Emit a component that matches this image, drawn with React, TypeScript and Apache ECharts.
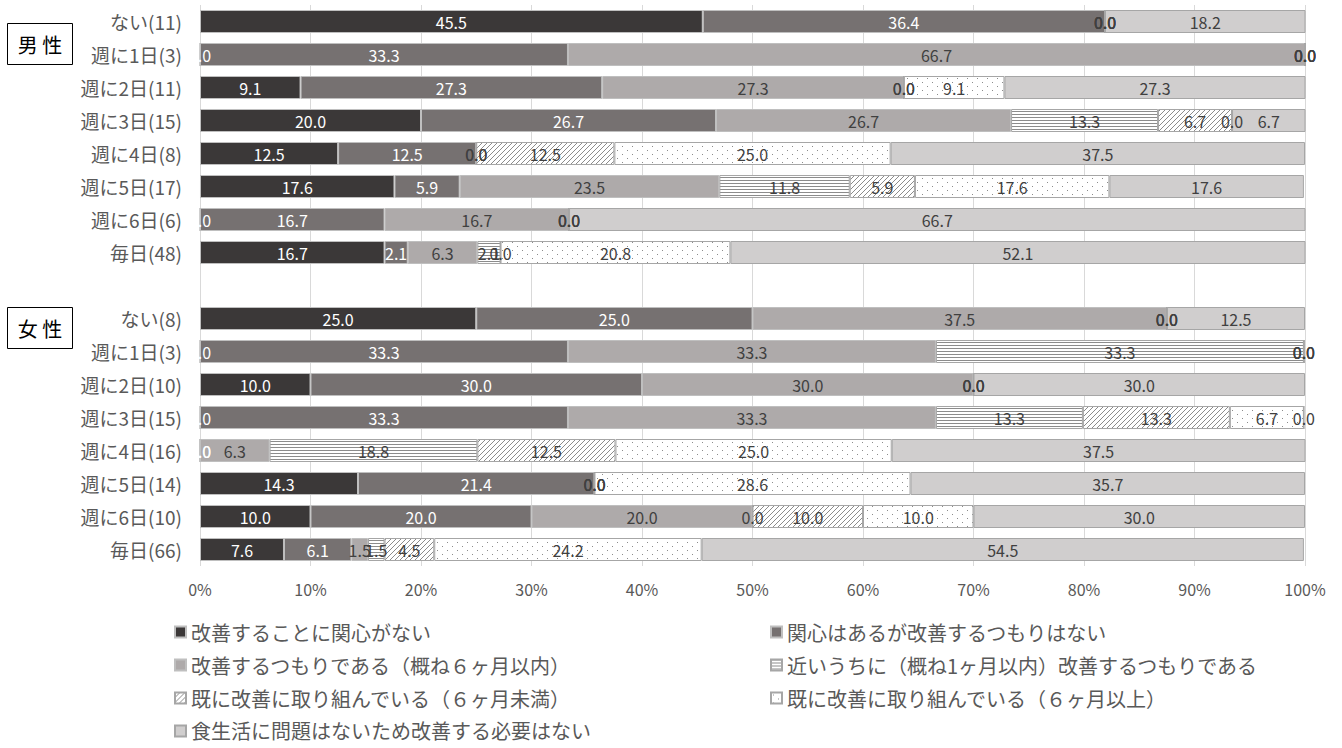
import React, { useEffect, useRef } from "react";
import * as echarts from "echarts";

// ---- Data ----
const seriesNames = [
  "改善することに関心がない",
  "関心はあるが改善するつもりはない",
  "改善するつもりである（概ね６ヶ月以内）",
  "近いうちに（概ね1ヶ月以内）改善するつもりである",
  "既に改善に取り組んでいる（６ヶ月未満）",
  "既に改善に取り組んでいる（６ヶ月以上）",
  "食生活に問題はないため改善する必要はない",
];

const maleLabels = ["ない(11)", "週に1日(3)", "週に2日(11)", "週に3日(15)", "週に4日(8)", "週に5日(17)", "週に6日(6)", "毎日(48)"];
const femaleLabels = ["ない(8)", "週に1日(3)", "週に2日(10)", "週に3日(15)", "週に4日(16)", "週に5日(14)", "週に6日(10)", "毎日(66)"];

const maleNoInterest = [45.5, 0, 9.1, 20.0, 12.5, 17.6, 0, 16.7];
const maleNoPlan = [36.4, 33.3, 27.3, 26.7, 12.5, 5.9, 16.7, 2.1];
const maleWithin6Months = [0, 66.7, 27.3, 26.7, 0, 23.5, 16.7, 6.3];
const maleWithin1Month = [0, 0, 0, 13.3, 0, 11.8, 0, 2.1];
const maleUnder6Months = [0, 0, 0, 6.7, 12.5, 5.9, 0, 0];
const maleOver6Months = [0, 0, 9.1, 0, 25.0, 17.6, 0, 20.8];
const maleNoNeed = [18.2, 0, 27.3, 6.7, 37.5, 17.6, 66.7, 52.1];

const femaleNoInterest = [25.0, 0, 10.0, 0, 0, 14.3, 10.0, 7.6];
const femaleNoPlan = [25.0, 33.3, 30.0, 33.3, 0, 21.4, 20.0, 6.1];
const femaleWithin6Months = [37.5, 33.3, 30.0, 33.3, 6.3, 0, 20.0, 1.5];
const femaleWithin1Month = [0, 33.3, 0, 13.3, 18.8, 0, 0, 1.5];
const femaleUnder6Months = [0, 0, 0, 13.3, 12.5, 0, 10.0, 4.5];
const femaleOver6Months = [0, 0, 0, 6.7, 25.0, 28.6, 10.0, 24.2];
const femaleNoNeed = [12.5, 0, 30.0, 0, 37.5, 35.7, 30.0, 54.5];

const maleSeries = [maleNoInterest, maleNoPlan, maleWithin6Months, maleWithin1Month, maleUnder6Months, maleOver6Months, maleNoNeed];
const femaleSeries = [femaleNoInterest, femaleNoPlan, femaleWithin6Months, femaleWithin1Month, femaleUnder6Months, femaleOver6Months, femaleNoNeed];

const xTicks = [0, 10, 20, 30, 40, 50, 60, 70, 80, 90, 100];

const FONT = "'Noto Sans CJK JP', 'Noto Sans', sans-serif";

function makePattern(kind: string) {
  const c = document.createElement("canvas");
  let w = 4, h = 3;
  if (kind === "diag") { w = 5; h = 5; }
  if (kind === "dots") { w = 10; h = 8; }
  c.width = w;
  c.height = h;
  const ctx = c.getContext("2d")!;
  ctx.fillStyle = "#ffffff";
  ctx.fillRect(0, 0, w, h);
  ctx.fillStyle = "#8c8c8c";
  ctx.strokeStyle = "#8c8c8c";
  if (kind === "hlines") {
    ctx.fillRect(0, 0, w, 1);
  } else if (kind === "diag") {
    ctx.lineWidth = 1;
    ctx.beginPath();
    ctx.moveTo(-1, h + 1);
    ctx.lineTo(w + 1, -1);
    ctx.moveTo(-1, 1);
    ctx.lineTo(1, -1);
    ctx.moveTo(w - 1, h + 1);
    ctx.lineTo(w + 1, h - 1);
    ctx.stroke();
  } else {
    ctx.fillRect(2, 2, 1, 1);
    ctx.fillRect(7, 6, 1, 1);
  }
  return { image: c, repeat: "repeat", imageWidth: w, imageHeight: h } as any;
}

export default function App() {
  const ref = useRef<HTMLDivElement>(null);

  useEffect(() => {
    document.body.style.margin = "0";
    const chart = echarts.init(ref.current!, undefined, { renderer: "svg" });

    const keys = [...maleLabels.map((_, i) => "m" + i), "gap", ...femaleLabels.map((_, i) => "f" + i)];
    const labelMap: Record<string, string> = {};
    maleLabels.forEach((l, i) => (labelMap["m" + i] = l));
    femaleLabels.forEach((l, i) => (labelMap["f" + i] = l));
    labelMap["gap"] = "";

    const fills: any[] = [
      "#3b3838",
      "#767171",
      "#aeaaaa",
      makePattern("hlines"),
      makePattern("diag"),
      makePattern("dots"),
      "#d0cece",
    ];
    const borders = ["#bfbfbf", "#bfbfbf", "#bfbfbf", "#a6a6a6", "#a6a6a6", "#a6a6a6", "#a6a6a6"];
    const labelColors = ["#ffffff", "#ffffff", "#404040", "#404040", "#404040", "#404040", "#404040"];

    const series = seriesNames.map((name, si) => ({
      name,
      type: "bar",
      stack: "total",
      barWidth: 23,
      data: [...maleSeries[si], "-", ...femaleSeries[si]],
      itemStyle: { color: fills[si], borderColor: borders[si], borderWidth: 1 },
      label: {
        show: true,
        position: "inside",
        color: labelColors[si],
        fontSize: 16,
        fontFamily: FONT,
        textBorderWidth: 0,
        formatter: (p: any) => Number(p.value).toFixed(1),
      },
      emphasis: { disabled: true },
    }));

    const legendText = { fontSize: 20, color: "#595959", fontFamily: FONT };
    const legendBase = {
      orient: "vertical",
      top: 622,
      height: 126,
      padding: 0,
      itemWidth: 11,
      itemHeight: 11,
      itemGap: 13,
      selectedMode: false,
      icon: "rect",
      textStyle: legendText,
    };

    chart.setOption({
      animation: false,
      grid: { left: 200, width: 1105, top: 5, height: 561, containLabel: false },
      xAxis: {
        type: "value",
        min: xTicks[0],
        max: xTicks[xTicks.length - 1],
        interval: 10,
        axisLine: { show: false },
        axisTick: { show: false },
        splitLine: { show: true, lineStyle: { color: "#d9d9d9", width: 1 } },
        axisLabel: { formatter: "{value}%", color: "#595959", fontSize: 16, fontFamily: FONT, margin: 15 },
      },
      yAxis: {
        type: "category",
        inverse: true,
        data: keys,
        axisLine: { show: false },
        axisTick: { show: false },
        axisLabel: {
          color: "#595959",
          fontSize: 19,
          fontFamily: FONT,
          margin: 18,
          interval: 0,
          formatter: (v: string) => labelMap[v],
        },
      },
      legend: [
        {
          ...legendBase,
          data: [seriesNames[0], seriesNames[2], seriesNames[4], seriesNames[6]],
          left: 174,
        },
        {
          ...legendBase,
          data: [seriesNames[1], seriesNames[3], seriesNames[5]],
          left: 770,
        },
      ],
      graphic: [
        {
          type: "group",
          children: [
            { type: "rect", shape: { x: 7.5, y: 23.5, width: 65, height: 41 }, style: { fill: "#ffffff", stroke: "#000000", lineWidth: 1 } },
            { type: "text", x: 40, y: 44, style: { text: "男 性", fontSize: 20, fontFamily: FONT, fill: "#000000", align: "center", verticalAlign: "middle" } },
            { type: "rect", shape: { x: 7.5, y: 307.5, width: 65, height: 41 }, style: { fill: "#ffffff", stroke: "#000000", lineWidth: 1 } },
            { type: "text", x: 40, y: 328, style: { text: "女 性", fontSize: 20, fontFamily: FONT, fill: "#000000", align: "center", verticalAlign: "middle" } },
          ],
        },
      ],
      series,
    } as any);

    return () => chart.dispose();
  }, []);

  return <div ref={ref} style={{ width: 1342, height: 748 }} />;
}
